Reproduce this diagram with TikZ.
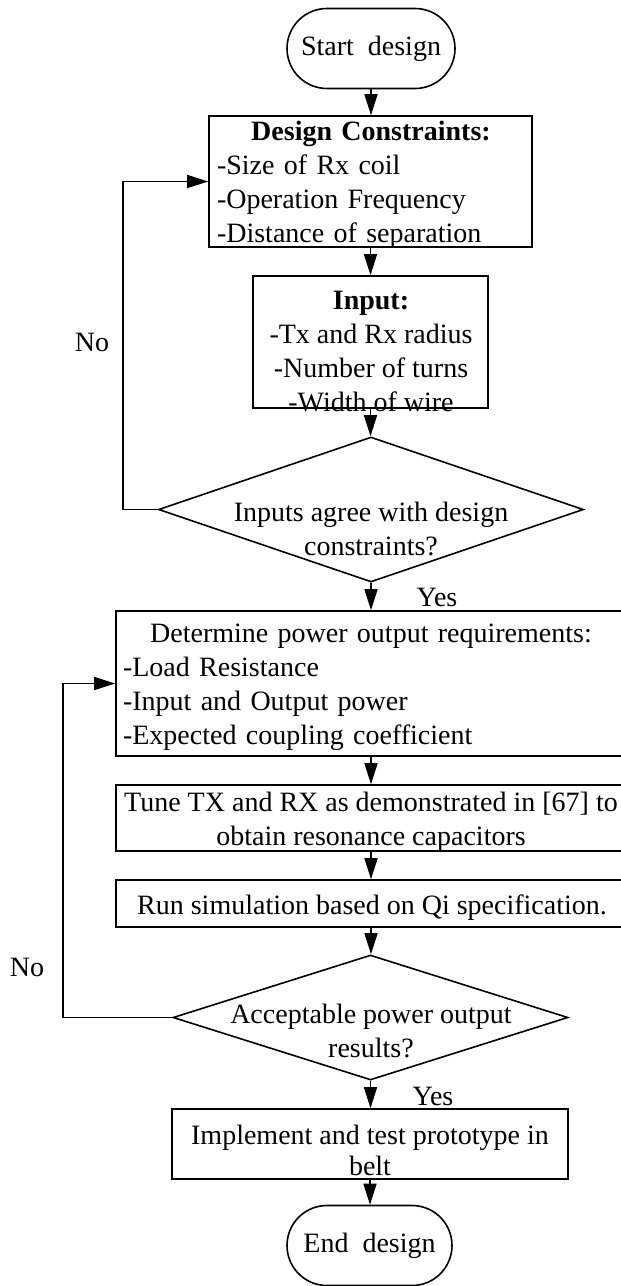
\documentclass[tikz,border=0pt]{standalone}
\usepackage{fontspec}
\setmainfont{Liberation Serif}
\usetikzlibrary{shapes.geometric,shapes.misc,arrows.meta}
\begin{document}
\begin{tikzpicture}[x=1pt,y=-1pt,
  line width=1.6pt,
  every node/.style={inner sep=0pt, font=\fontsize{28}{34}\selectfont},
  terminal/.style={draw, rounded rectangle, minimum width=#1, minimum height=80pt},
  boxshape/.style={draw, rectangle},
  decision/.style={draw, diamond},
  txt/.style={align=center},
  arr/.style={-{Triangle[length=21pt,width=13pt]}}]
\fill[white] (0,0) rectangle (621,1286);
\useasboundingbox (0,0) rectangle (621,1286);

% shapes
\node[terminal=168pt] (start) at (371,48.5) {Start~~design};
\node[boxshape, minimum width=323pt, minimum height=131pt] (design) at (370.5,181.5) {};
\node[txt, text width=308pt, align=left] (designtxt) at (371,184.5)
  {\hfill\textbf{Design Constraints:}\hfill\null\\-Size of Rx coil\\-Operation Frequency\\-Distance of separation};
\node[boxshape, minimum width=235pt, minimum height=132pt] (input) at (370.5,342) {};
\node[txt] (inputtxt) at (371,352)
  {\textbf{Input:}\\-Tx and Rx radius\\-Number of turns\\-Width of wire};
\node[decision, minimum width=425pt, minimum height=145pt] (dec1) at (371,509.5) {};
\node[txt] (dec1txt) at (371,528.5) {Inputs agree with design\\constraints?};
\node[boxshape, minimum width=510pt, minimum height=145pt] (determine) at (371,683.5) {};
\node[txt, text width=496pt, align=left] (determinetxt) at (371,687)
  {\hfill Determine power output requirements:\hfill\null\\-Load Resistance\\-Input and Output power\\-Expected coupling coefficient};
\node[boxshape, minimum width=510pt, minimum height=66pt] (tune) at (371,818) {};
\node[txt] (tunetxt) at (371,822) {Tune TX and RX as demonstrated in [67] to\\obtain resonance capacitors};
\node[boxshape, minimum width=510pt, minimum height=47pt] (run) at (371,903.5) {};
\node[txt] (runtxt) at (372,908) {Run simulation based on Qi specification.};
\node[decision, minimum width=395pt, minimum height=125pt] (dec2) at (370.5,1017.5) {};
\node[txt] (dec2txt) at (371,1031) {Acceptable power output\\results?};
\node[boxshape, minimum width=396pt, minimum height=70pt] (implement) at (370,1144) {};
\node[txt, font=\fontsize{28}{31}\selectfont] (implementtxt) at (370,1150) {Implement and test prototype in\\belt};
\node[terminal=165pt] (end) at (369.5,1245.5) {End~~design};

% labels
\node (yes1) at (437,597) {Yes};
\node (no1) at (92,342) {No};
\node (yes2) at (433,1096) {Yes};
\node (no2) at (27,967) {No};

% connectors
\draw[arr] (start.south) -- (start.south |- design.north);
\draw[arr] (design.south) -- (design.south |- input.north);
\draw[arr] (input.south) -- (input.south |- dec1.north);
\draw[arr] (dec1.south) -- (dec1.south |- determine.north);
\draw[arr] (determine.south) -- (determine.south |- tune.north);
\draw[arr] (tune.south) -- (tune.south |- run.north);
\draw[arr] (run.south) -- (run.south |- dec2.north);
\draw[arr] (dec2.south) -- (dec2.south |- implement.north);
\draw[arr] (implement.south) -- (implement.south |- end.north);
\draw[arr] (dec1.west) -- +(-35,0) |- (design.west);
\draw[arr] (dec2.west) -- +(-109,0) |- (determine.west);
\end{tikzpicture}
\end{document}
